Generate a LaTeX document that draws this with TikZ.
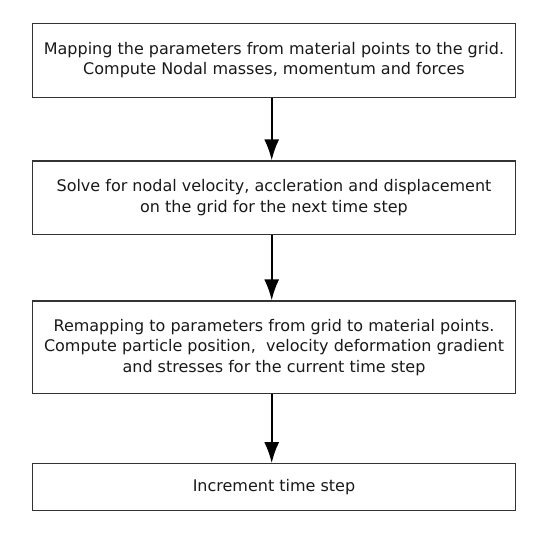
\documentclass[tikz,border=0pt]{standalone}
\usepackage{fontspec}
\setmainfont{DejaVu Sans}
\usetikzlibrary{arrows.meta}
\begin{document}
\begin{tikzpicture}[x=1pt,y=-1pt,
  stepbox/.style={draw=black!80,line width=1.2pt,minimum width=483.4pt,inner sep=0pt,
    align=center,font=\fontsize{16}{20.5}\selectfont,text=black!90},
  arr/.style={line width=1.8pt,-{Latex[length=21pt,width=15pt]}}]
\useasboundingbox (0,0) rectangle (552,551);
\node[stepbox,minimum height=74pt] (b1) at (274,60.3)
  {Mapping the parameters from material points to the grid.\\Compute Nodal masses, momentum and forces};
\node[stepbox,minimum height=73.5pt] (b2) at (274,197.7)
  {\raisebox{1pt}{\parbox{475pt}{\centering Solve for nodal velocity, accleration and displacement\\on the grid for the next time step}}};
\node[stepbox,minimum height=92.7pt] (b3) at (274,347.3)
  {\raisebox{3pt}{\parbox{475pt}{\centering Remapping to parameters from grid to material points.\\Compute particle position,~ velocity deformation gradient\\and stresses for the current time step}}};
\node[stepbox,minimum height=47pt] (b4) at (274,487.2)
  {\raisebox{2pt}{Increment time step}};
\draw[arr] ([xshift=-2.3pt]b1.south) -- ([xshift=-2.3pt]b2.north);
\draw[arr] ([xshift=-2.3pt]b2.south) -- ([xshift=-2.3pt]b3.north);
\draw[arr] ([xshift=-2.3pt]b3.south) -- ([xshift=-2.3pt]b4.north);
\end{tikzpicture}
\end{document}
